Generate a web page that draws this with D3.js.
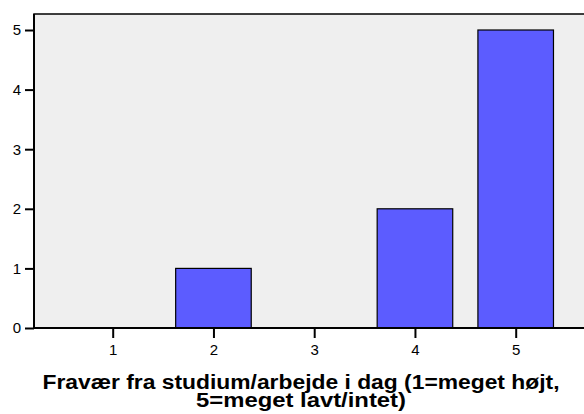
<!DOCTYPE html>
<html><head><meta charset="utf-8">
<script src="https://cdn.jsdelivr.net/npm/d3@7"></script>
<style>body{margin:0;background:#fff}svg{display:block}</style>
</head><body>
<svg id="c" width="584" height="414"></svg>
<script>
const categories = ["1","2","3","4","5"];
const counts = [0,1,0,2,5];
const yTicks = [0,1,2,3,4,5];
const titleLines = ["Fravær fra studium/arbejde i dag (1=meget højt,","5=meget lavt/intet)"];
const titleWidths = [517, 210];

const svg = d3.select("#c");
const mLeft = 34, mTop = 14, mBottom = 328, mRight = 600;
const x = d3.scalePoint().domain(categories).range([112.7, 515.7]);
const bw = x.step() * 0.75;
const y = d3.scaleLinear().domain([0,5]).range([mBottom, 30]);

svg.append("rect").attr("x", mLeft).attr("y", mTop).attr("width", mRight-mLeft).attr("height", mBottom-mTop)
  .attr("fill", "#efefef").attr("stroke", "#000").attr("stroke-width", 1.5);

svg.append("g").selectAll("rect").data(categories).join("rect")
  .attr("x", d => x(d) - bw/2)
  .attr("y", (d,i) => y(counts[i]))
  .attr("width", bw)
  .attr("height", (d,i) => mBottom - y(counts[i]))
  .attr("fill", "#5c5cff").attr("stroke", "#000").attr("stroke-width", 1.2);

const yAxis = d3.axisLeft(y).tickValues(yTicks).tickSize(10).tickPadding(3).tickFormat(d3.format("d"));
const gy = svg.append("g").attr("transform", `translate(${mLeft},0)`).call(yAxis);
const xAxis = d3.axisBottom(x).tickSize(10).tickPadding(6);
const gx = svg.append("g").attr("transform", `translate(0,${mBottom})`).call(xAxis);
[gy, gx].forEach(g => {
  g.select(".domain").remove();
  g.selectAll(".tick line").attr("stroke", "#000").attr("stroke-width", 2);
  g.selectAll(".tick text").attr("font-family", "Liberation Sans, Arial, sans-serif").attr("font-size", 15).attr("fill", "#000");
});
gy.selectAll(".tick line").attr("x2", -9);
gy.selectAll(".tick text").attr("x", -13);
svg.append("line").attr("x1", mLeft).attr("x2", mRight).attr("y1", mBottom).attr("y2", mBottom).attr("stroke", "#000").attr("stroke-width", 2);
svg.append("line").attr("x1", mLeft).attr("x2", mLeft).attr("y1", mTop).attr("y2", mBottom).attr("stroke", "#000").attr("stroke-width", 2);

svg.append("g").selectAll("text").data(titleLines).join("text")
  .attr("x", 301).attr("y", (d,i) => 389 + i*18)
  .attr("text-anchor", "middle")
  .attr("textLength", (d,i) => titleWidths[i]).attr("lengthAdjust", "spacingAndGlyphs")
  .attr("font-family", "Liberation Sans, Arial, sans-serif").attr("font-weight", "bold").attr("font-size", 20)
  .attr("fill", "#000").text(d => d);
</script>
</body></html>
